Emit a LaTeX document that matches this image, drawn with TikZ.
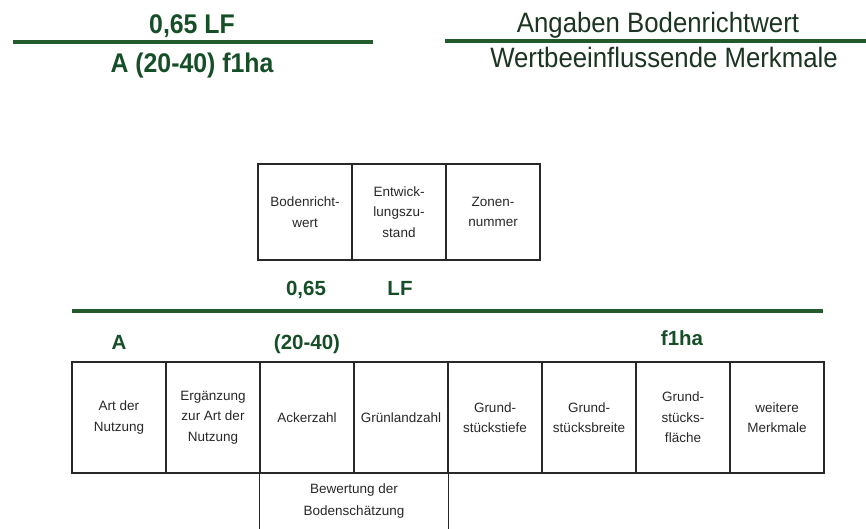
\documentclass[tikz,border=0pt]{standalone}
\usepackage{fontspec}
\setmainfont{Liberation Sans}
\newfontfamily\headfont[FakeStretch=0.92]{Liberation Sans}
\usepackage{xcolor}
\usepackage{tikz}
\usetikzlibrary{positioning}
\definecolor{brwGreen}{RGB}{22,78,40}
\definecolor{brwGreenLine}{RGB}{34,92,44}
\definecolor{brwDark}{RGB}{28,52,34}
\definecolor{brwGray}{RGB}{40,40,40}
\tikzset{
  cell/.style={draw=brwGray, line width=1.3pt, minimum width=94pt, minimum height=111pt,
    inner sep=0pt, align=center, text=brwGray, font=\fontsize{13.5}{20.5}\selectfont},
  topcell/.style={cell, minimum height=96pt},
  greenrule/.style={brwGreenLine, line width=3.6pt},
  codebig/.style={text=brwGreen, anchor=base, inner sep=0pt, font=\headfont\bfseries\fontsize{27}{30}\selectfont},
  headtext/.style={text=brwDark, anchor=base, inner sep=0pt, font=\headfont\fontsize{28}{30}\selectfont},
  codepart/.style={text=brwGreen, anchor=base, inner sep=0pt, font=\bfseries\fontsize{20.5}{24}\selectfont}
}

\begin{document}
\begin{tikzpicture}[x=1pt,y=-1pt]
\useasboundingbox (0,0) rectangle (866,528);
% headings
\node[codebig] (kurzTop) at (192,33) {0,65 LF};
\node[codebig] (kurzBot) at (192,72) {A (20-40) f1ha};
\coordinate (ruleLa) at (13,42);
\coordinate (ruleLb) at (373,42);
\draw[greenrule] (ruleLa) -- (ruleLb);
\node[headtext] (angTop) at (658,32) {Angaben Bodenrichtwert};
\node[headtext] (angBot) at (664,67) {Wertbeeinflussende Merkmale};
\coordinate (ruleRa) at (445,41);
\coordinate (ruleRb) at (866,41);
\draw[greenrule] (ruleRa) -- (ruleRb);
% upper fields
\node[topcell] (brw) at (305,212) {Bodenricht-\\wert};
\node[topcell] (entw) at (399,212) {Entwick-\\lungszu-\\stand};
\node[topcell] (zone) at (493,212) {Zonen-\\nummer};
\node[codepart] (wert) at (306,295) {0,65};
\node[codepart] (lf) at (400,295) {LF};
\coordinate (ruleMa) at (72,311);
\coordinate (ruleMb) at (823,311);
\draw[greenrule] (ruleMa) -- (ruleMb);
\node[codepart] (art) at (119,349) {A};
\node[codepart] (zahl) at (307,349) {(20-40)};
\node[codepart] (flaeche) at (682,345) {f1ha};
% lower fields
\node[cell] (nutz) at (119,417.5) {Art der\\Nutzung};
\node[cell] (ergz) at (213,417.5) {Ergänzung\\zur Art der\\Nutzung};
\node[cell] (acker) at (307,417.5) {Ackerzahl};
\node[cell] (gruen) at (401,417.5) {Grünlandzahl};
\node[cell] (tiefe) at (495,417.5) {Grund-\\stückstiefe};
\node[cell] (breite) at (589,417.5) {Grund-\\stücksbreite};
\node[cell] (gfl) at (683,417.5) {Grund-\\stücks-\\fläche};
\node[cell] (weitere) at (777,417.5) {weitere\\Merkmale};
% open box below
\node[align=center, text=brwGray, font=\fontsize{13.5}{21.5}\selectfont] (bewert) at (354,501) {Bewertung der\\Bodenschätzung};
\draw[brwGray, line width=1.3pt] (acker.south west) -- ++(0,56);
\draw[brwGray, line width=1.3pt] (gruen.south east) -- ++(0,56);
\end{tikzpicture}
\end{document}
